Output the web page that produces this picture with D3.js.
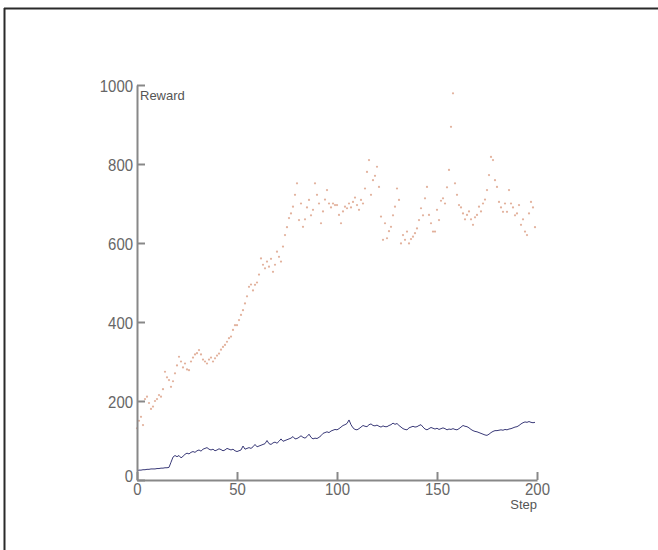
<!DOCTYPE html>
<html><head><meta charset="utf-8">
<script src="https://cdn.jsdelivr.net/npm/d3@7"></script>
<style>body{margin:0;background:#fff}svg{display:block}</style>
</head><body>
<script>
const xTicks = [0, 50, 100, 150, 200];
const yTicks = [0, 200, 400, 600, 800, 1000];
const xLabel = "Step";
const yLabel = "Reward";
const rewardScatter = [131,150,160,139,205,211,195,180,186,200,205,215,211,230,274,260,253,236,250,270,
290,312,300,285,295,280,278,300,310,318,321,329,318,305,300,295,305,310,300,308,
315,320,330,337,342,350,359,363,380,392,392,405,418,430,447,465,489,495,480,494,
500,520,561,545,536,553,540,560,527,545,578,565,553,591,620,640,663,675,692,722,
751,658,700,641,660,690,709,670,684,751,722,700,650,680,710,734,700,690,700,696,
696,671,650,680,692,688,700,690,704,715,696,684,709,700,738,780,810,722,759,770,
793,742,667,608,650,612,630,641,670,692,738,709,599,620,608,629,599,610,616,625,
637,658,688,670,713,742,671,650,629,629,684,658,707,713,700,741,785,894,979,751,
722,696,690,675,660,671,680,660,646,665,671,692,680,700,710,734,772,818,810,759,
742,704,690,679,700,679,734,700,690,670,675,696,646,660,629,620,675,704,690,640];
const rewardLine = [24,25,25,26,26,27,27,28,28,28,29,29,30,30,31,31,32,45,58,62,
59,62,56,60,65,68,66,70,72,70,74,76,73,78,80,82,78,76,78,74,
76,79,77,74,76,80,78,76,78,74,72,74,76,86,78,80,82,80,84,90,
84,86,88,90,92,100,92,90,94,96,93,98,104,98,100,102,104,106,110,104,
105,108,112,108,106,110,116,108,104,106,105,108,112,118,120,122,120,124,126,128,
127,130,134,138,140,143,152,140,132,128,127,130,134,138,136,135,140,142,138,137,
139,136,134,137,135,135,138,140,144,141,143,138,134,130,128,127,132,134,136,134,
135,138,140,134,129,127,130,133,131,129,131,128,130,132,130,127,129,128,130,128,
127,130,134,138,136,135,132,128,125,123,122,120,118,116,114,113,116,120,123,125,
125,126,127,126,128,127,129,130,132,134,135,138,142,145,147,146,148,146,145,146];

const W = 658, H = 550;
const svg = d3.select("body").append("svg").attr("width", W).attr("height", H);

// frame (top and left edges)
svg.append("line").attr("x1", 4).attr("y1", 8.5).attr("x2", W).attr("y2", 8.5)
  .attr("stroke", "#2a2a2a").attr("stroke-width", 2);
svg.append("line").attr("x1", 4.5).attr("y1", 8).attr("x2", 4.5).attr("y2", H)
  .attr("stroke", "#2a2a2a").attr("stroke-width", 2);

const x = d3.scaleLinear().domain([0, 200]).range([137, 537]);
const y = d3.scaleLinear().domain([0, 1000]).range([480, 85]);

const textColor = "#666";
const digitW = 8.3;
const fmt = d3.format("d");

// scatter
svg.append("g").selectAll("circle").data(rewardScatter).join("circle")
  .attr("cx", (d, i) => x(i)).attr("cy", d => y(d)).attr("r", 1.1)
  .attr("fill", "#cf7d5a").attr("opacity", 0.6);

// line
svg.append("path").datum(rewardLine)
  .attr("fill", "none").attr("stroke", "#3a3a78").attr("stroke-width", 1)
  .attr("d", d3.line().x((d, i) => x(i)).y(d => y(d)));

function styleAxis(g) {
  g.select(".domain").attr("stroke", "#888").attr("stroke-width", 2);
  g.selectAll(".tick line").attr("stroke", "#888").attr("stroke-width", 2);
  g.selectAll(".tick text")
    .attr("fill", textColor)
    .attr("font-family", "Liberation Sans, Arial, sans-serif")
    .attr("font-size", 17)
    .attr("textLength", d => fmt(d).length * digitW)
    .attr("lengthAdjust", "spacingAndGlyphs");
}

const gx = svg.append("g").attr("transform", `translate(0,${y(0)})`)
  .call(d3.axisBottom(x).tickValues(xTicks).tickFormat(fmt).tickSizeInner(-8).tickSizeOuter(0).tickPadding(3));
styleAxis(gx);

const gy = svg.append("g").attr("transform", `translate(${x(0)},0)`)
  .call(d3.axisLeft(y).tickValues(yTicks).tickFormat(fmt).tickSizeInner(-8).tickSizeOuter(0).tickPadding(4));
styleAxis(gy);
gy.selectAll(".tick text").attr("dy", "0.36em");
gy.selectAll(".tick").filter(d => d === 0).select("text").attr("dy", "0.1em");

svg.append("text").attr("x", x(0) + 3).attr("y", 100)
  .attr("fill", "#555").attr("font-family", "Liberation Sans, Arial, sans-serif")
  .attr("font-size", 13).text(yLabel);
svg.append("text").attr("x", x(200)).attr("y", 509).attr("text-anchor", "end")
  .attr("fill", "#555").attr("font-family", "Liberation Sans, Arial, sans-serif")
  .attr("font-size", 13).text(xLabel);
</script>
</body></html>
